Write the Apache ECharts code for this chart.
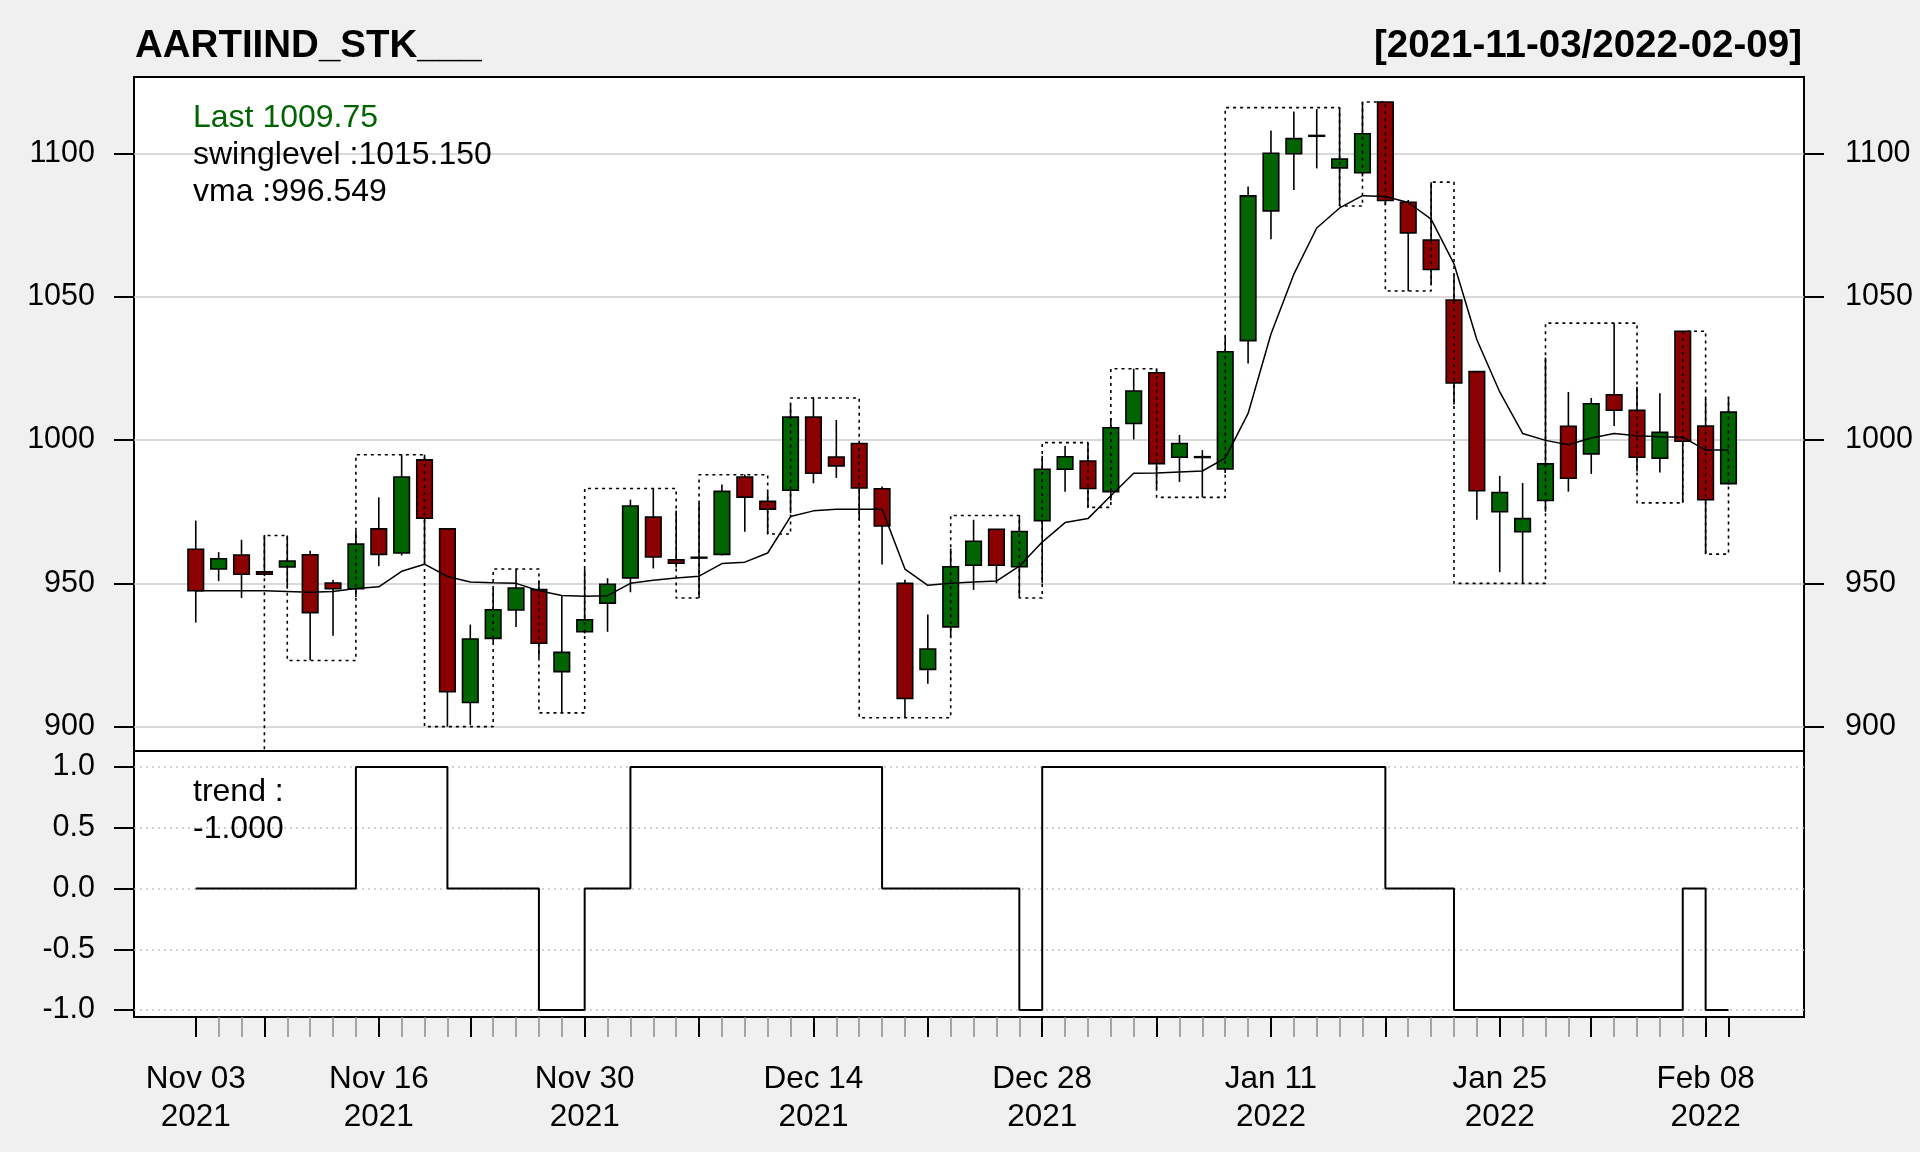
<!DOCTYPE html>
<html><head><meta charset="utf-8">
<script src="https://cdn.jsdelivr.net/npm/echarts@6/dist/echarts.min.js"></script>
<style>html,body{margin:0;padding:0;background:#f0f0f0;}#c{width:1920px;height:1152px;}</style>
</head><body><div id="c"></div>
<script>
const dates = ['2021-11-03','2021-11-04','2021-11-08','2021-11-09','2021-11-10','2021-11-11','2021-11-12','2021-11-15','2021-11-16','2021-11-17','2021-11-18','2021-11-22','2021-11-23','2021-11-24','2021-11-25','2021-11-26','2021-11-29','2021-11-30',
'2021-12-01','2021-12-02','2021-12-03','2021-12-06','2021-12-07','2021-12-08','2021-12-09','2021-12-10','2021-12-13','2021-12-14','2021-12-15','2021-12-16','2021-12-17','2021-12-20','2021-12-21','2021-12-22','2021-12-23','2021-12-24','2021-12-27','2021-12-28','2021-12-29','2021-12-30','2021-12-31',
'2022-01-03','2022-01-04','2022-01-05','2022-01-06','2022-01-07','2022-01-10','2022-01-11','2022-01-12','2022-01-13','2022-01-14','2022-01-17','2022-01-18','2022-01-19','2022-01-20','2022-01-21','2022-01-24','2022-01-25','2022-01-27','2022-01-28','2022-01-31',
'2022-02-01','2022-02-02','2022-02-03','2022-02-04','2022-02-07','2022-02-08','2022-02-09'];
const openP  = [961.9,955.0,959.9,954.0,955.7,960.0,950.1,948.1,969.0,960.6,993.1,969.0,908.4,930.8,940.7,947.8,919.2,933.1,943.1,951.9,973.1,958.2,958.9,960.1,987.1,978.6,982.5,1008.0,994.1,998.8,983.0,950.0,920.0,934.8,956.3,968.9,955.8,971.9,989.8,992.7,982.0,1005.8,1023.5,994.0,994.2,989.9,1034.7,1080.0,1099.9,1106.2,1095.0,1093.3,1118.0,1083.0,1069.8,1048.9,1023.9,975.0,968.0,978.9,1004.8,995.2,1015.8,1010.4,993.7,1038.0,1004.9,984.8];
const highP  = [971.9,960.9,965.2,966.9,966.7,961.4,951.2,968.4,980.0,994.9,994.9,969.0,935.6,948.4,955.0,950.9,945.7,955.0,951.8,979.2,983.1,975.4,978.0,984.5,988.0,981.8,1012.5,1014.9,1007.0,999.1,983.8,951.3,939.1,962.2,972.2,968.9,973.7,994.5,997.9,999.1,1007.7,1024.9,1024.9,1001.8,996.5,1036.2,1088.5,1108.0,1114.7,1115.5,1116.0,1118.0,1118.0,1083.8,1090.0,1057.6,1023.9,987.5,985.0,1028.8,1016.8,1014.7,1040.8,1018.6,1016.3,1038.0,1014.4,1015.15];
const lowP   = [936.3,950.8,944.9,952.5,948.7,923.2,931.7,945.2,956.0,959.7,957.0,900.0,900.6,929.5,934.8,924.0,905.0,932.5,933.1,946.9,955.2,955.5,944.9,959.7,968.0,967.2,974.5,984.9,986.8,972.0,956.6,903.1,915.0,931.3,947.7,950.0,944.9,950.0,982.0,976.5,978.9,1000.2,983.1,985.4,980.0,988.5,1026.7,1070.1,1087.3,1094.8,1081.7,1092.0,1082.0,1052.0,1054.5,1012.4,972.2,953.9,950.0,975.0,982.0,988.2,1004.9,989.0,988.7,978.1,960.2,984.5];
const closeP = [947.4,958.6,953.2,953.2,957.8,939.8,948.1,963.7,960.1,987.1,972.7,912.2,930.6,940.8,948.4,929.1,925.9,937.3,949.7,977.0,959.2,957.0,959.1,982.1,980.1,975.9,1008.0,988.4,991.0,983.3,970.0,909.8,927.1,955.8,964.7,956.3,968.1,989.8,994.2,983.1,1004.3,1017.1,991.8,998.8,994.0,1030.8,1085.2,1100.1,1105.2,1106.3,1098.1,1106.9,1083.6,1072.3,1059.5,1019.9,982.3,981.7,972.6,991.7,986.7,1012.7,1010.4,994.0,1002.7,999.6,979.2,1009.75];
const vmaVals = [947.4,947.4,947.4,947.4,947.2,946.9,947.2,948.2,948.8,954.2,956.7,952.4,950.5,950.2,950.0,947.4,945.8,945.5,945.7,950.0,951.1,951.9,952.5,956.9,957.4,960.6,973.3,975.3,975.9,975.9,975.9,955.0,949.3,950.0,950.5,950.8,956.0,964.4,971.2,972.6,980.6,988.4,988.5,988.9,989.2,993.7,1009.3,1037.0,1057.9,1074.0,1081.0,1085.3,1085.0,1082.9,1077.1,1061.5,1035.0,1016.8,1002.3,999.9,998.4,1000.7,1002.3,1001.5,1001.2,1001.0,996.5,996.549];
const swingVals = [0,0,0,966.7,923.1,923.1,923.1,994.9,994.9,994.9,900.0,900.0,900.0,955.0,955.0,904.8,904.8,983.1,983.1,983.1,983.1,944.9,987.9,987.9,987.9,967.2,1014.7,1014.7,1014.7,903.1,903.1,903.1,903.1,973.7,973.7,973.7,944.9,999.1,999.1,976.5,1024.9,1024.9,980.0,980.0,980.0,1116.0,1116.0,1116.0,1116.0,1116.0,1081.7,1118.0,1052.0,1052.0,1090.0,950.0,950.0,950.0,950.0,1040.8,1040.8,1040.8,1040.8,978.1,978.1,1038.0,960.2,1015.15];
const trendVals = [0,0,0,0,0,0,0,1,1,1,1,0,0,0,0,-1,-1,0,0,1,1,1,1,1,1,1,1,1,1,1,0,0,0,0,0,0,-1,1,1,1,1,1,1,1,1,1,1,1,1,1,1,1,0,0,0,-1,-1,-1,-1,-1,-1,-1,-1,-1,-1,0,-1,-1];
const priceTicks = [900,950,1000,1050,1100];
const trendTicks = [-1,-0.5,0,0.5,1];
const labelIdx = [0,8,17,27,37,47,57,66];
const majorIdx = [0,3,8,12,17,22,27,32,37,42,47,52,57,61,66,67];
const titleText = 'AARTIIND_STK___';
const rangeText = '[2021-11-03/2022-02-09]';

const FONT = '"Liberation Sans", Arial, Helvetica, sans-serif';
const MON = ['Jan','Feb','Mar','Apr','May','Jun','Jul','Aug','Sep','Oct','Nov','Dec'];
function fmtDate(i){ const d = dates[Math.round(i)]; if(!d) return ''; const p=d.split('-'); return MON[+p[1]-1]+' '+p[2]+'\n'+p[0]; }
const allIdx = dates.map((d,i)=>i);
const XMIN=-2.7, XMAX=70.3;

function renderCandle(params, api){
  const x=api.value(0), o=api.value(1), c=api.value(2), l=api.value(3), h=api.value(4);
  const pO=api.coord([x,o]), pC=api.coord([x,c]), pL=api.coord([x,l]), pH=api.coord([x,h]);
  const w = api.size([1,0])[0]*0.68;
  const top=Math.min(pO[1],pC[1]), bot=Math.max(pO[1],pC[1]);
  const fill = c>=o ? '#006400' : '#8b0000';
  return {type:'group', children:[
    {type:'line', shape:{x1:pH[0],y1:pH[1],x2:pH[0],y2:top}, style:{stroke:'#000',lineWidth:1.6}},
    {type:'line', shape:{x1:pL[0],y1:bot,x2:pL[0],y2:pL[1]}, style:{stroke:'#000',lineWidth:1.6}},
    {type:'rect', shape:{x:pO[0]-w/2,y:top,width:w,height:Math.max(bot-top,0.8)}, style:{fill:fill,stroke:'#000',lineWidth:1.6}}
  ]};
}

const chart = echarts.init(document.getElementById('c'), null, {renderer:'canvas'});
const txt = (x,y,text,size)=>({type:'text', x:x, y:y, z:100, style:{text:text, fontSize:size, fontFamily:FONT, fill:'#000', align:'left', verticalAlign:'middle'}});
const g1 = txt(135,46,titleText,38.5); g1.style.fontWeight='bold';
const g2 = txt(1802,46,rangeText,38.5); g2.style.fontWeight='bold'; g2.style.align='right';
const g3 = txt(193,118,'Last '+closeP[closeP.length-1],32); g3.style.fill='#006400';
const g4 = txt(193,155,'swinglevel :'+swingVals[swingVals.length-1].toFixed(3),32);
const g5 = txt(193,192,'vma :'+vmaVals[vmaVals.length-1].toFixed(3),32);
const g6 = txt(193,792,'trend :',32);
const g7 = txt(193,829,trendVals[trendVals.length-1].toFixed(3),32);

const noLine = {show:false, onZero:false};
chart.setOption({
  animation:false,
  backgroundColor:'#f0f0f0',
  textStyle:{fontFamily:FONT},
  graphic:[g1,g2,g3,g4,g5,g6,g7],
  grid:[
    {left:134, top:77, width:1670, height:674, show:true, backgroundColor:'#fff', borderColor:'#000', borderWidth:2},
    {left:134, top:751, width:1670, height:266, show:true, backgroundColor:'#fff', borderColor:'#000', borderWidth:2}
  ],
  xAxis:[
    {type:'value', gridIndex:0, min:XMIN, max:XMAX, show:false, axisLine:noLine},
    {type:'value', gridIndex:1, position:'bottom', min:XMIN, max:XMAX, axisLine:noLine, splitLine:{show:false},
      axisTick:{show:true, length:20, lineStyle:{color:'#8c8c8c', width:1.5}, customValues:allIdx}, axisLabel:{show:false}},
    {type:'value', gridIndex:1, position:'bottom', min:XMIN, max:XMAX, axisLine:noLine, splitLine:{show:false},
      axisTick:{show:true, length:20, lineStyle:{color:'#000', width:2}, customValues:majorIdx},
      axisLabel:{show:true, customValues:labelIdx, formatter:(v)=>fmtDate(v), fontSize:31.5, lineHeight:38, color:'#000', margin:43, fontFamily:FONT}}
  ],
  yAxis:[
    {type:'value', gridIndex:0, min:891.5, max:1126.7, position:'left', axisLine:noLine,
      axisTick:{show:true, length:20, lineStyle:{color:'#000', width:2}, customValues:priceTicks},
      axisLabel:{customValues:priceTicks, formatter:(v)=>String(v), margin:39, fontSize:30.5, color:'#000', fontFamily:FONT},
      splitLine:{show:true, lineStyle:{color:'#cdcdcd', width:1.5}}},
    {type:'value', gridIndex:0, min:891.5, max:1126.7, position:'right', axisLine:noLine,
      axisTick:{show:true, length:20, lineStyle:{color:'#000', width:2}, customValues:priceTicks},
      axisLabel:{customValues:priceTicks, formatter:(v)=>String(v), margin:41, fontSize:30.5, color:'#000', fontFamily:FONT},
      splitLine:{show:false}},
    {type:'value', gridIndex:1, min:-1.0575, max:1.1315, position:'left', axisLine:noLine,
      axisTick:{show:true, length:20, lineStyle:{color:'#000', width:2}, customValues:trendTicks},
      axisLabel:{customValues:trendTicks, formatter:(v)=>v.toFixed(1), margin:39, fontSize:30.5, color:'#000', fontFamily:FONT},
      splitLine:{show:true, lineStyle:{color:'#c4c4c4', width:1.5, type:[2,4]}}}
  ],
  series:[
    {type:'custom', name:'candles', xAxisIndex:0, yAxisIndex:0, z:2, clip:true,
      data: dates.map((d,i)=>[i, openP[i], closeP[i], lowP[i], highP[i]]),
      encode:{x:0, y:[1,2,3,4]}, renderItem:renderCandle},
    {type:'line', name:'swinglevel', xAxisIndex:0, yAxisIndex:0, z:3, step:'end', symbol:'none', clip:true,
      data: swingVals.map((v,i)=>[i,v]), lineStyle:{color:'#000', width:1.6, type:[3,4]}},
    {type:'line', name:'vma', xAxisIndex:0, yAxisIndex:0, z:4, symbol:'none', clip:true,
      data: vmaVals.map((v,i)=>[i,v]), lineStyle:{color:'#000', width:1.5}},
    {type:'line', name:'trend', xAxisIndex:1, yAxisIndex:2, z:4, step:'end', symbol:'none', clip:true,
      data: trendVals.map((v,i)=>[i,v]), lineStyle:{color:'#000', width:2}}
  ]
});
</script></body></html>
